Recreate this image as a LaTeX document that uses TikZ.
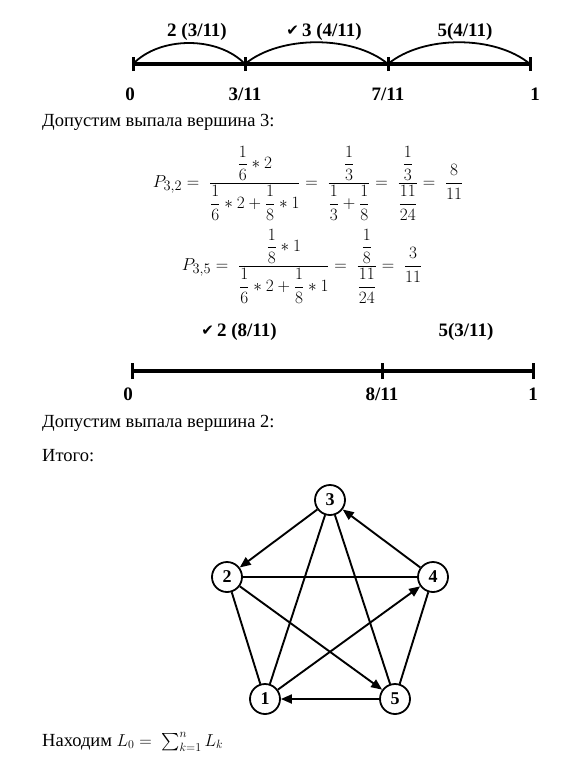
\documentclass[tikz,border=0pt]{standalone}
\usepackage{amsmath}
\usepackage{fontspec}
\setmainfont{Liberation Serif}
\newfontfamily\symfont{DejaVu Sans}
\usetikzlibrary{arrows.meta}
\begin{document}
\begin{tikzpicture}[x=1pt,y=-1pt,
  numline/.style={line width=4pt},
  tickmark/.style={line width=3pt},
  arcline/.style={line width=1.8pt},
  blabel/.style={font=\fontsize{19}{22}\selectfont\bfseries, inner sep=0pt},
  body/.style={font=\fontsize{18.5}{22}\selectfont, inner sep=0pt, anchor=west},
  mathrow/.style={font=\fontsize{19}{22}\selectfont, inner sep=0pt},
  vert/.style={circle, draw, line width=1.8pt, minimum size=30pt, inner sep=0pt, fill=white, font=\fontsize{18}{20}\selectfont\bfseries},
  edge/.style={line width=1.9pt},
  arr/.style={edge, -{Triangle[length=11pt,width=9pt]}},
]
\useasboundingbox (0,0) rectangle (583,761);

% first number line
\coordinate (a0) at (133,64);
\coordinate (a1) at (245,64);
\coordinate (a2) at (388,64);
\coordinate (a3) at (530,64);
\draw[numline] (a0) -- (a3);
\foreach \p in {a0,a1,a2,a3} \draw[tickmark] ([yshift=-7pt]\p) -- ([yshift=7pt]\p);
\draw[arcline] (a0) .. controls +(27,-28) and +(-27,-28) .. (a1);
\draw[arcline] (a1) .. controls +(35,-29) and +(-35,-29) .. (a2);
\draw[arcline] (a2) .. controls +(35,-29) and +(-35,-29) .. (a3);
\node[blabel] (l1) at (197,32) {2 (3/11)};
\node[blabel] (l2) at (324,32) {\raisebox{1pt}{\symfont\fontsize{15}{15}\selectfont ✔}\,3 (4/11)};
\node[blabel] (l3) at (465,32) {5(4/11)};
\node[blabel] (n0) at (130,94) {0};
\node[blabel] (n1) at (245,94) {3/11};
\node[blabel] (n2) at (388,94) {7/11};
\node[blabel] (n3) at (535,94) {1};

\node[body] (t1) at (42,122) {Допустим выпала вершина 3:};

\node[mathrow] (m1) at (308,183) {$P_{3,2}=\;\dfrac{\dfrac16\ast 2}{\dfrac16\ast2+\dfrac18\ast1}=\;\dfrac{\dfrac13}{\dfrac13+\dfrac18}=\;\dfrac{\dfrac13}{\dfrac{11}{24}}=\;\dfrac{8}{11}$};
\node[mathrow] (m2) at (302,266) {$P_{3,5}=\;\dfrac{\dfrac18\ast1}{\dfrac16\ast2+\dfrac18\ast1}=\;\dfrac{\dfrac18}{\dfrac{11}{24}}=\;\dfrac{3}{11}$};

% second number line
\coordinate (b0) at (132,371);
\coordinate (b1) at (382,371);
\coordinate (b2) at (533,371);
\draw[numline] (b0) -- (b2);
\foreach \p in {b0,b1,b2} \draw[tickmark] ([yshift=-8pt]\p) -- ([yshift=8pt]\p);
\node[blabel] (k1) at (239,332) {\raisebox{1pt}{\symfont\fontsize{15}{15}\selectfont ✔}\,2 (8/11)};
\node[blabel] (k2) at (466,332) {5(3/11)};
\node[blabel] (c0) at (128,394) {0};
\node[blabel] (c1) at (382,394) {8/11};
\node[blabel] (c2) at (533,394) {1};

\node[body] (t2) at (42,423) {Допустим выпала вершина 2:};
\node[body] (t3) at (42,456) {Итого:};

% graph
\node[vert] (v3) at (330,500) {3};
\node[vert] (v2) at (227,577) {2};
\node[vert] (v4) at (433,577) {4};
\node[vert] (v1) at (265,699) {1};
\node[vert] (v5) at (395,699) {5};
\draw[arr] (v3) -- (v2);
\draw[arr] (v4) -- (v3);
\draw[edge, line width=2.4pt] (v2) -- (v4);
\draw[edge] (v3) -- (v1);
\draw[edge] (v3) -- (v5);
\draw[edge] (v2) -- (v1);
\draw[arr] (v2) -- (v5);
\draw[arr] (v1) -- (v4);
\draw[edge] (v4) -- (v5);
\draw[arr] (v5) -- (v1);

\node[body] (t4) at (42,742) {Находим $L_0 = \;\sum_{k=1}^{n} L_k$};
\end{tikzpicture}
\end{document}
